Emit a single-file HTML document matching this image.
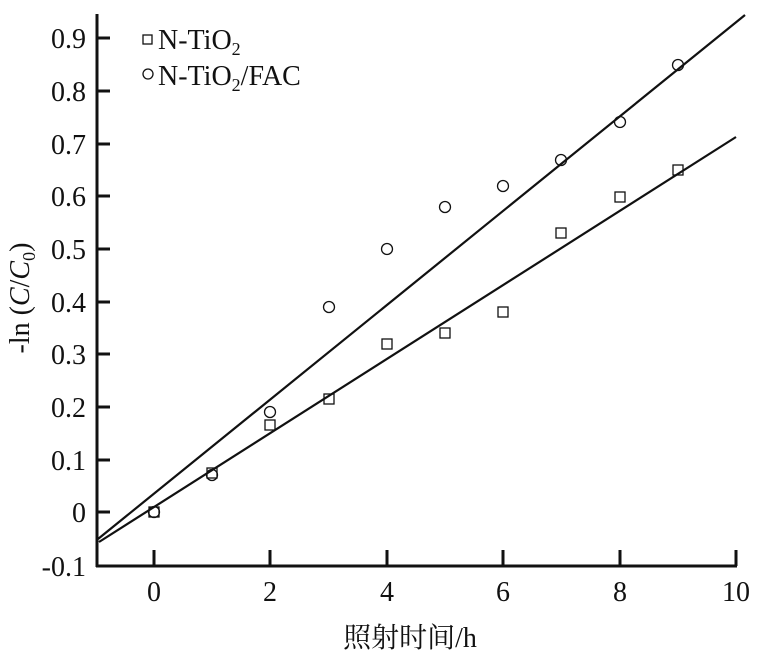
<!DOCTYPE html>
<html><head><meta charset="utf-8"><style>
html,body{margin:0;padding:0;background:#fff;}
svg text{font-family:"Liberation Serif","Noto Serif CJK SC",serif;fill:#111;}
</style></head><body>
<svg width="782" height="661" viewBox="0 0 782 661" xmlns="http://www.w3.org/2000/svg">
<g stroke="#111" stroke-width="3" fill="none">
<line x1="97" y1="14" x2="97" y2="567"/>
<line x1="96" y1="566" x2="737" y2="566"/>
<line x1="154" y1="566" x2="154" y2="550"/>
<line x1="270" y1="566" x2="270" y2="550"/>
<line x1="387" y1="566" x2="387" y2="550"/>
<line x1="503" y1="566" x2="503" y2="550"/>
<line x1="620" y1="566" x2="620" y2="550"/>
<line x1="736" y1="566" x2="736" y2="550"/>
<line x1="97" y1="38" x2="110" y2="38"/>
<line x1="97" y1="91" x2="110" y2="91"/>
<line x1="97" y1="144" x2="110" y2="144"/>
<line x1="97" y1="196" x2="110" y2="196"/>
<line x1="97" y1="249" x2="110" y2="249"/>
<line x1="97" y1="302" x2="110" y2="302"/>
<line x1="97" y1="354" x2="110" y2="354"/>
<line x1="97" y1="407" x2="110" y2="407"/>
<line x1="97" y1="460" x2="110" y2="460"/>
<line x1="97" y1="512" x2="110" y2="512"/>
</g>
<g stroke="#111" stroke-width="2.2">
<line x1="99" y1="542" x2="736" y2="137"/>
<line x1="98" y1="539" x2="745" y2="15"/>
</g>
<g stroke="#111" stroke-width="1.3" fill="none">
<rect x="149" y="507" width="10" height="10"/>
<rect x="207" y="468" width="10" height="10"/>
<rect x="265" y="420" width="10" height="10"/>
<rect x="324" y="394" width="10" height="10"/>
<rect x="382" y="339" width="10" height="10"/>
<rect x="440" y="328" width="10" height="10"/>
<rect x="498" y="307" width="10" height="10"/>
<rect x="556" y="228" width="10" height="10"/>
<rect x="615" y="192" width="10" height="10"/>
<rect x="673" y="165" width="10" height="10"/>
<circle cx="154" cy="512" r="5.5"/>
<circle cx="212" cy="475" r="5.5"/>
<circle cx="270" cy="412" r="5.5"/>
<circle cx="329" cy="307" r="5.5"/>
<circle cx="387" cy="249" r="5.5"/>
<circle cx="445" cy="207" r="5.5"/>
<circle cx="503" cy="186" r="5.5"/>
<circle cx="561" cy="160" r="5.5"/>
<circle cx="620" cy="122" r="5.5"/>
<circle cx="678" cy="65" r="5.5"/>
<rect x="143" y="35" width="9" height="9"/>
<circle cx="148" cy="74" r="5"/>
</g>
<g font-size="28" text-anchor="end">
<text x="86" y="48">0.9</text>
<text x="86" y="101">0.8</text>
<text x="86" y="154">0.7</text>
<text x="86" y="206">0.6</text>
<text x="86" y="259">0.5</text>
<text x="86" y="312">0.4</text>
<text x="86" y="364">0.3</text>
<text x="86" y="417">0.2</text>
<text x="86" y="470">0.1</text>
<text x="86" y="522">0</text>
<text x="86" y="576">-0.1</text>
</g>
<g font-size="28" text-anchor="middle">
<text x="154" y="601">0</text>
<text x="270" y="601">2</text>
<text x="387" y="601">4</text>
<text x="503" y="601">6</text>
<text x="620" y="601">8</text>
<text x="736" y="601">10</text>
<text x="410" y="647" font-size="28">照射时间/h</text>
</g>
<g font-size="28">
<text x="158" y="49">N-TiO<tspan font-size="18" dy="6">2</tspan></text>
<text x="158" y="85">N-TiO<tspan font-size="18" dy="6">2</tspan><tspan dy="-6">/FAC</tspan></text>
</g>
<text font-size="28" text-anchor="middle" transform="translate(29,298) rotate(-90)">-ln (<tspan font-style="italic">C</tspan>/<tspan font-style="italic">C</tspan><tspan font-size="18" dy="6">0</tspan><tspan dy="-6">)</tspan></text>
</svg>
</body></html>
